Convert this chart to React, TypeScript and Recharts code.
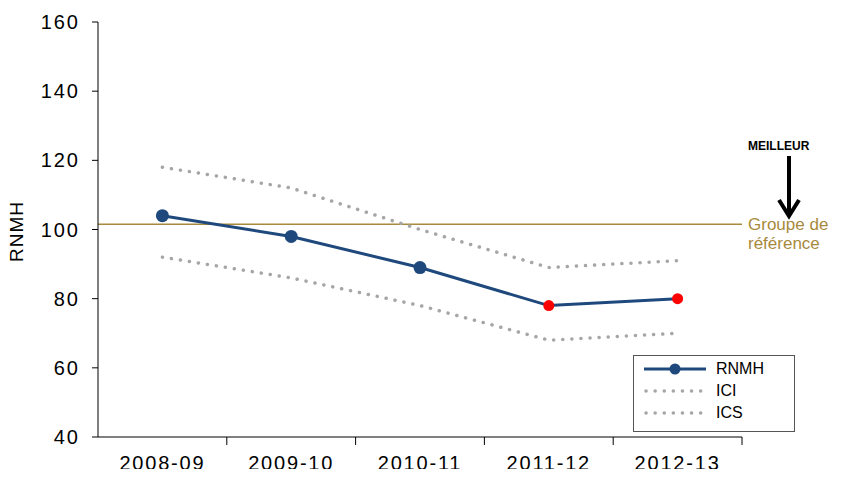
import React from "react";
import { LineChart, Line, XAxis, YAxis, ReferenceLine } from "recharts";

const years = ["2008-09", "2009-10", "2010-11", "2011-12", "2012-13"];
const rnmh = [104, 98, 89, 78, 80];
const ici = [92, 86, 78, 68, 70];
const ics = [118, 112, 100, 89, 91];
const flagged = [false, false, false, true, true];
const yTicks = [40, 60, 80, 100, 120, 140, 160];
const refValue = 101.5;

const data = years.map((year, i) => ({
  year,
  rnmh: rnmh[i],
  ici: ici[i],
  ics: ics[i],
  flagged: flagged[i],
}));

const BAND = 644 / 5;

const XTick = (props: any) => {
  const { x, y, payload } = props;
  return (
    <g>
      <line x1={x + BAND / 2} x2={x + BAND / 2} y1={y - 8} y2={y} stroke="#000" />
      <text x={x} y={y + 25} textAnchor="middle" style={{ fontSize: 20, letterSpacing: 1.8 }} fill="#000">
        {payload.value}
      </text>
    </g>
  );
};

const YTick = (props: any) => {
  const { x, y, payload } = props;
  return (
    <text x={x - 10} y={y + 7} textAnchor="end" style={{ fontSize: 20, letterSpacing: 2 }} fill="#000">
      {payload.value}
    </text>
  );
};

const Dot = (props: any) => {
  const { cx, cy, payload } = props;
  return <circle cx={cx} cy={cy} r={payload.flagged ? 5.5 : 6.5} fill={payload.flagged ? "#ff0000" : "#1f497d"} />;
};

export default function App() {
  const font = "'Liberation Sans', Arial, sans-serif";
  return (
    <div style={{ position: "relative", width: 846, height: 477, margin: -8, fontFamily: font, background: "#fff" }}>
      <LineChart width={846} height={477} data={data} margin={{ top: 22, right: 104, bottom: 0, left: 0 }} style={{ fontFamily: font }}>
        <XAxis
          dataKey="year"
          axisLine={{ stroke: "#000" }}
          tickLine={false}
          tick={<XTick />}
          height={40}
          interval={0}
          padding={{ left: BAND / 2, right: BAND / 2 }}
        />
        <YAxis
          domain={[40, 160]}
          ticks={yTicks}
          width={98}
          axisLine={{ stroke: "#000" }}
          tickLine={{ stroke: "#000" }}
          tickSize={6}
          tick={<YTick />}
        />
        <ReferenceLine y={refValue} stroke="#a88a3c" strokeWidth={1.5} ifOverflow="extendDomain" />
        <Line dataKey="ics" stroke="#a6a6a6" strokeWidth={3.5} strokeDasharray="0.1 9" strokeLinecap="round" dot={false} isAnimationActive={false} />
        <Line dataKey="ici" stroke="#a6a6a6" strokeWidth={3.5} strokeDasharray="0.1 9" strokeLinecap="round" dot={false} isAnimationActive={false} />
        <Line dataKey="rnmh" stroke="#1f497d" strokeWidth={3} dot={<Dot />} isAnimationActive={false} />
      </LineChart>
      <div style={{ position: "absolute", left: 6, top: 262, fontSize: 19, letterSpacing: 1, transform: "rotate(-90deg)", transformOrigin: "0 0" }}>RNMH</div>
      <div style={{ position: "absolute", left: 748, top: 139, fontSize: 12, fontWeight: "bold" }}>MEILLEUR</div>
      <svg style={{ position: "absolute", left: 774, top: 154 }} width={30} height={68}>
        <line x1={15} y1={2} x2={15} y2={60} stroke="#000" strokeWidth={4} />
        <polyline points="5,46 15,62 25,46" fill="none" stroke="#000" strokeWidth={4} />
      </svg>
      <div style={{ position: "absolute", left: 748, top: 215, fontSize: 17, color: "#a88a3c", lineHeight: "19px" }}>
        Groupe de
        <br />
        référence
      </div>
      <div style={{ position: "absolute", left: 633, top: 355, width: 160, height: 75, border: "1px solid #555", background: "#fff", fontSize: 16 }}>
        {[
          { name: "RNMH", solid: true },
          { name: "ICI", solid: false },
          { name: "ICS", solid: false },
        ].map((s, i) => (
          <div key={s.name} style={{ position: "absolute", top: 4 + i * 22, left: 8, display: "flex", alignItems: "center" }}>
            <svg width={66} height={16}>
              {s.solid ? (
                <>
                  <line x1={2} x2={64} y1={8} y2={8} stroke="#1f497d" strokeWidth={3} />
                  <circle cx={33} cy={8} r={5.5} fill="#1f497d" />
                </>
              ) : (
                <line x1={4} x2={64} y1={8} y2={8} stroke="#a6a6a6" strokeWidth={3.5} strokeDasharray="0.1 9" strokeLinecap="round" />
              )}
            </svg>
            <span style={{ marginLeft: 8 }}>{s.name}</span>
          </div>
        ))}
      </div>
    </div>
  );
}
